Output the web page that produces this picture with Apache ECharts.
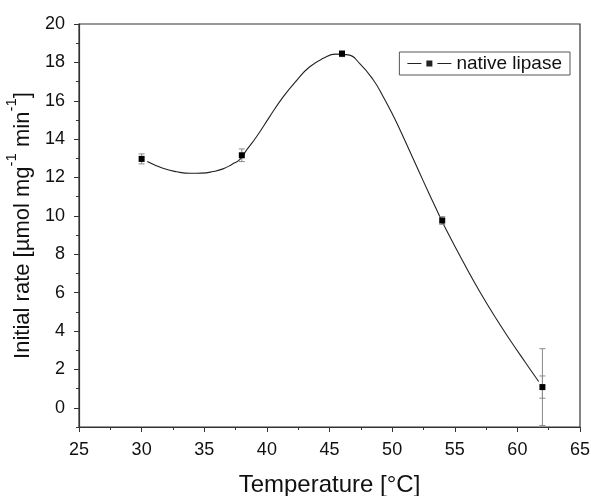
<!DOCTYPE html>
<html>
<head>
<meta charset="utf-8">
<script src="https://cdn.jsdelivr.net/npm/echarts@6/dist/echarts.min.js"></script>
<style>
  html, body { margin: 0; padding: 0; background: #fff; }
  #chart { width: 591px; height: 496px; }
</style>
</head>
<body>
<div id="chart"></div>
<script>
// measured points (temperature in °C, initial rate)
var temps = [30, 38, 46, 54, 62];
var rates = [12.97, 13.16, 18.45, 9.76, 1.08];
var errs = [0.26, 0.33, 0.15, 0.2, 2.0];
var innerErrs = [0, 0, 0, 0, 0.58];

// the fitted curve
var fitX = [30.45, 31.7, 32.8, 33.9, 34.8, 35.7, 36.5, 37.2, 37.85, 38.4, 39.2, 40.2, 41.3, 42.4, 43.4, 44.5, 45.5, 46.5, 47.4, 48.5, 49.3, 50.1, 50.9, 51.7, 52.5, 53.6, 54.3, 55.8, 57.0, 58.3, 59.4, 60.6, 61.7];
var fitY = [12.83, 12.48, 12.3, 12.22, 12.23, 12.31, 12.45, 12.68, 12.95, 13.45, 14.15, 15.15, 16.2, 17.08, 17.76, 18.21, 18.43, 18.39, 17.95, 17.08, 16.2, 15.2, 14.1, 12.95, 11.8, 10.25, 9.3, 7.45, 6.05, 4.65, 3.55, 2.4, 1.37];

var yMajor = [0, 2, 4, 6, 8, 10, 12, 14, 16, 18, 20];
var yMinor = [-1, 1, 3, 5, 7, 9, 11, 13, 15, 17, 19];

var font = 'Liberation Sans, Arial, sans-serif';
var axisCol = '#333';

var chart = echarts.init(document.getElementById('chart'));

var pts = temps.map(function (t, i) { return [t, rates[i]]; });
var fit = fitX.map(function (x, i) { return [x, fitY[i]]; });
var bars = [];
temps.forEach(function (t, i) {
    bars.push([t, rates[i], errs[i]]);
    if (innerErrs[i]) bars.push([t, rates[i], innerErrs[i]]);
});

function errorBar(params, api) {
    var x = api.value(0), y = api.value(1), e = api.value(2);
    var top = api.coord([x, y + e]);
    var bot = api.coord([x, y - e]);
    var w = 3;
    var style = { stroke: '#8a8a8a', lineWidth: 1 };
    return {
        type: 'group',
        children: [
            { type: 'line', shape: { x1: top[0], y1: top[1], x2: bot[0], y2: bot[1] }, style: style },
            { type: 'line', shape: { x1: top[0] - w, y1: top[1], x2: top[0] + w, y2: top[1] }, style: style },
            { type: 'line', shape: { x1: bot[0] - w, y1: bot[1], x2: bot[0] + w, y2: bot[1] }, style: style }
        ]
    };
}

var option = {
    animation: false,
    backgroundColor: '#fff',
    grid: {
        left: 79, right: 11, top: 24, bottom: 69,
        outerBoundsMode: 'none',
        containLabel: false,
        show: true, borderColor: axisCol, borderWidth: 1.2
    },
    legend: {
        right: 21, top: 52,
        data: ['native lipase'],
        icon: 'path://M0,2.5h14v1h-14z M19,0h6v6h-6z M30,2.5h14v1h-14z',
        itemWidth: 44, itemHeight: 6,
        padding: [2, 8, 2, 8],
        itemStyle: { color: '#222' },
        borderColor: '#555', borderWidth: 1, borderRadius: 0,
        textStyle: { fontFamily: font, fontSize: 19, color: '#111' }
    },
    xAxis: {
        type: 'value', min: 25, max: 65, interval: 5,
        name: 'Temperature [°C]', nameLocation: 'middle', nameGap: 46,
        nameTextStyle: { fontFamily: font, fontSize: 24, color: '#111' },
        axisLine: { onZero: false, lineStyle: { color: axisCol, width: 1.2 } },
        axisTick: { length: 5, inside: false, lineStyle: { color: axisCol } },
        minorTick: { show: true, splitNumber: 2, length: 3, lineStyle: { color: axisCol } },
        axisLabel: { margin: 14, fontFamily: font, fontSize: 18, color: '#111' },
        splitLine: { show: false }
    },
    yAxis: [{
        type: 'value', min: -1, max: 20,
        name: '{n|Initial rate [µmol mg}{s|-1}{n| min}{s|-1}{n|]}',
        nameLocation: 'middle', nameGap: 36, nameRotate: 90,
        nameTextStyle: {
            rich: {
                n: { fontFamily: font, fontSize: 22, color: '#111', lineHeight: 30, verticalAlign: 'bottom' },
                s: { fontFamily: font, fontSize: 15, color: '#111', lineHeight: 30, verticalAlign: 'top' }
            }
        },
        axisLine: { show: true, onZero: false, lineStyle: { color: axisCol, width: 1.2 } },
        axisTick: { show: true, length: 5, customValues: yMajor, lineStyle: { color: axisCol } },
        axisLabel: { margin: 14, customValues: yMajor, fontFamily: font, fontSize: 18, color: '#111' },
        splitLine: { show: false }
    }, {
        type: 'value', min: -1, max: 20, position: 'left',
        axisLine: { show: false, onZero: false },
        axisTick: { show: true, length: 3, customValues: yMinor, lineStyle: { color: axisCol } },
        axisLabel: { show: false },
        splitLine: { show: false }
    }],
    series: [{
        name: 'fit',
        type: 'line',
        data: fit,
        smooth: 0.5,
        showSymbol: false,
        symbol: 'none',
        lineStyle: { color: '#222', width: 1.1 },
        z: 2
    }, {
        name: 'errors',
        type: 'custom',
        renderItem: errorBar,
        data: bars,
        z: 3
    }, {
        name: 'native lipase',
        type: 'line',
        data: pts,
        symbol: 'rect',
        symbolSize: 6,
        itemStyle: { color: '#000' },
        lineStyle: { width: 0, opacity: 0 },
        z: 4
    }]
};

chart.setOption(option);
</script>
</body>
</html>
